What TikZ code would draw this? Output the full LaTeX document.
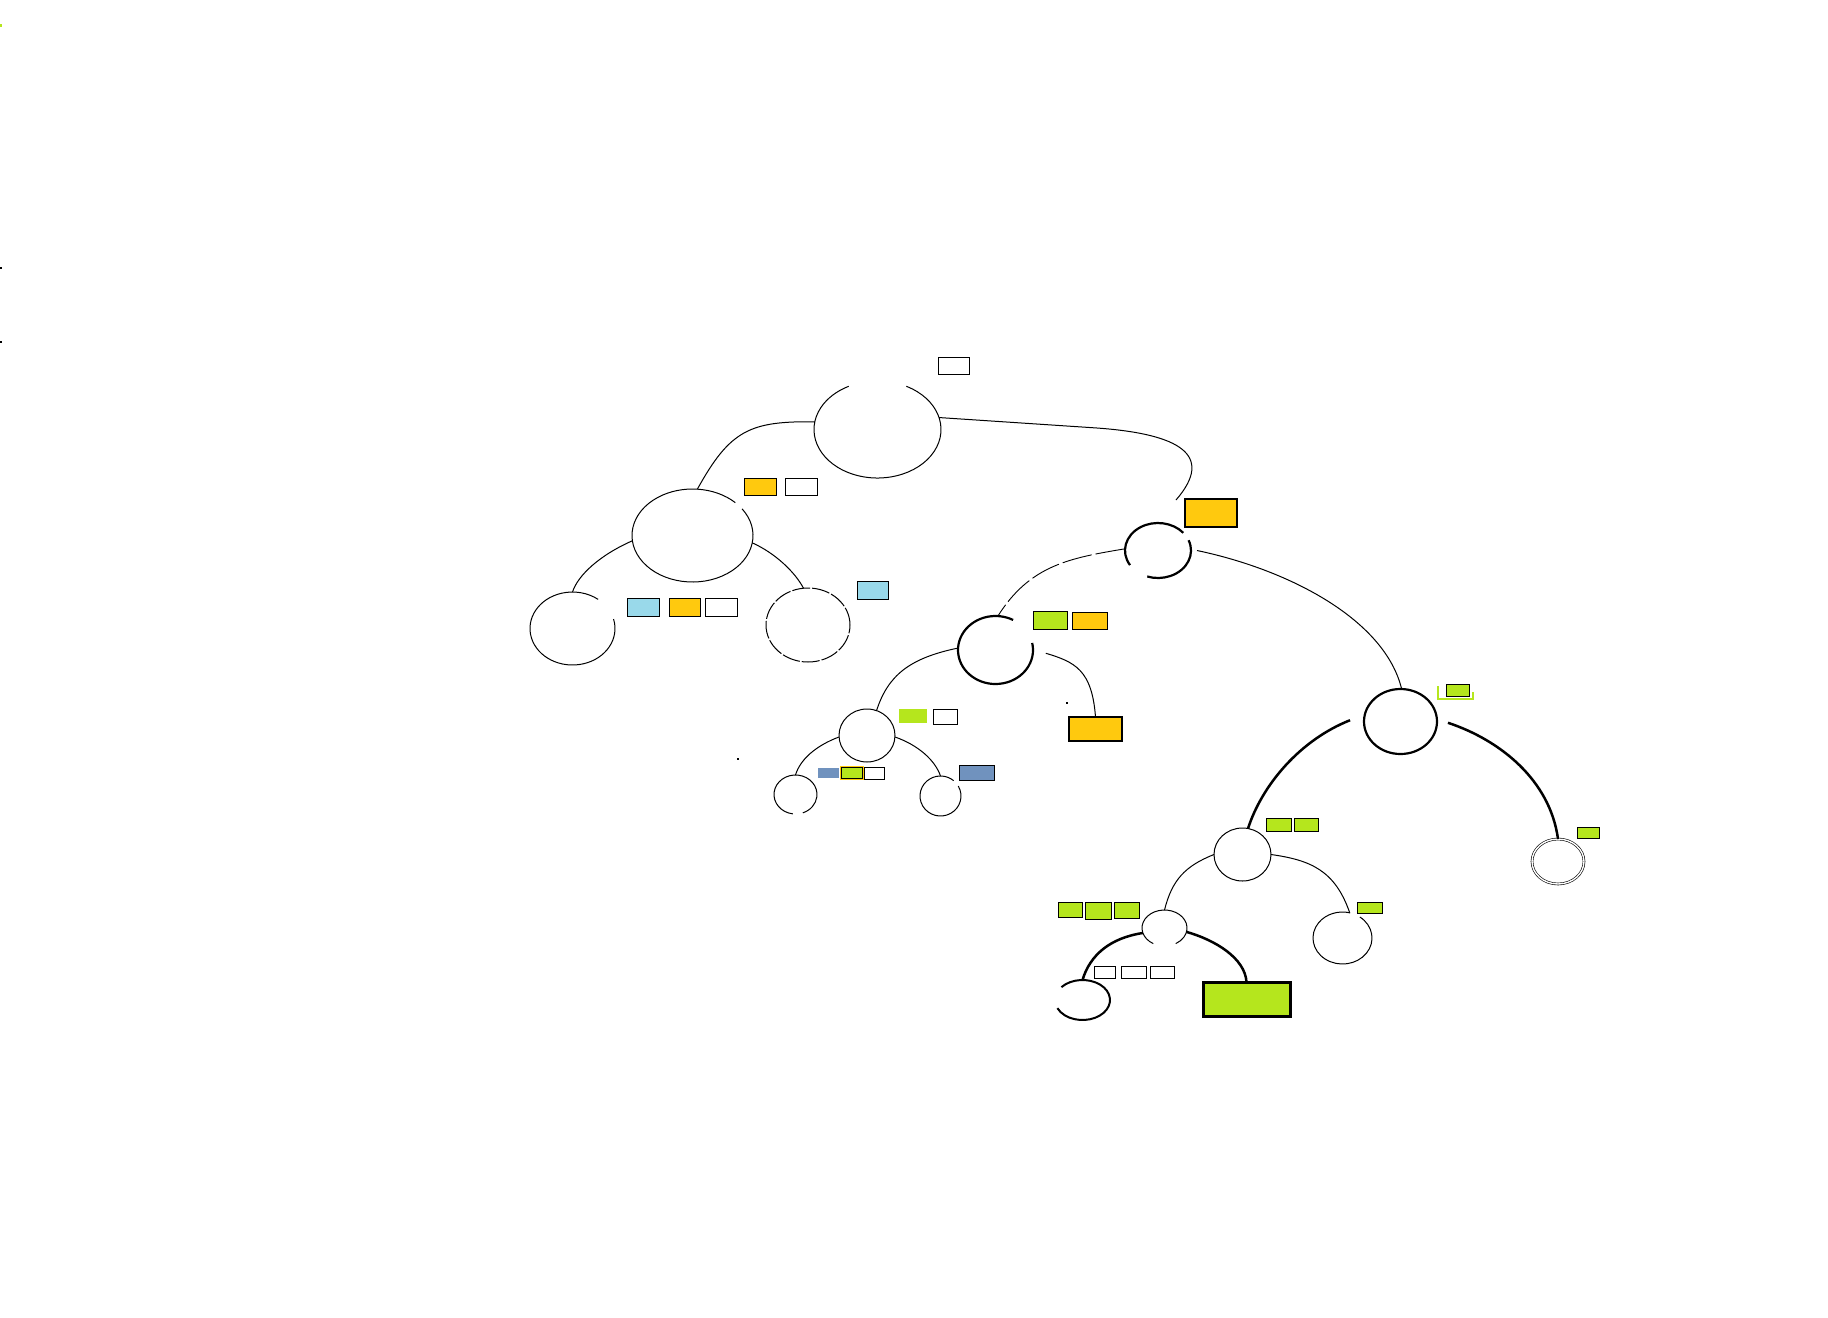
\documentclass[tikz,border=0pt]{standalone}
\usetikzlibrary{shapes.geometric,fit}
\definecolor{cOr}{RGB}{255,201,14}
\definecolor{cGr}{RGB}{181,230,29}
\definecolor{cLb}{RGB}{153,217,234}
\definecolor{cBg}{RGB}{112,146,190}
\tikzset{
  ell/.style={ellipse, inner sep=0pt, outer sep=0pt},
  ellline/.style={draw, line width=0.5pt},
  ellthick/.style={draw, line width=1.1pt},
  bx/.style={rectangle, draw, line width=0.5pt, inner sep=0pt, outer sep=0pt},
  thinedge/.style={draw, line width=0.5pt},
  thickedge/.style={draw, line width=1.25pt},
  dashedge/.style={draw, line width=0.45pt, dash pattern=on 15pt off 2pt},
}
% arc of an ellipse node with a gap: name, rx, ry, start, end, style
\newcommand\garc[6]{\draw[#6] ([shift={(#4:#2 and #3)}]#1.center) arc[start angle=#4, end angle=#5, x radius=#2, y radius=#3];}
\begin{document}
\begin{tikzpicture}[x=0.5pt,y=-0.5pt]
\useasboundingbox (0,0) rectangle (1828,1318);
\fill[white] (0,0) rectangle (1828,1318);

% ---------- tree nodes (ellipses) ----------
\node[ell, minimum width=63.5pt, minimum height=48.5pt] (root) at (877.5,429.5) {};
\node[ell, minimum width=60.5pt, minimum height=46.5pt] (L) at (692.5,535.5) {};
\node[ell, minimum width=42.5pt, minimum height=36.5pt] (LL) at (572.5,628.5) {};
\node[ell, minimum width=42pt, minimum height=37pt, draw, line width=0.5pt, dash pattern=on 9pt off 1pt] (LR) at (808,625) {};
\node[ell, minimum width=33pt, minimum height=27.5pt] (R) at (1158,550.5) {};
\node[ell, minimum width=37.5pt, minimum height=34pt] (RL) at (995.5,650) {};
\node[ell, ellline, minimum width=28pt, minimum height=26.5pt] (RLL) at (867,735.5) {};
\node[ell, minimum width=21.5pt, minimum height=19.5pt] (RLLL) at (795.5,794.5) {};
\node[ell, minimum width=20.5pt, minimum height=20pt] (RLLR) at (940.5,796) {};
\node[ell, ellthick, minimum width=36.5pt, minimum height=32.5pt] (RR) at (1400.5,721.5) {};
\node[ell, ellline, minimum width=28.5pt, minimum height=26.5pt] (RRL) at (1242.5,854.5) {};
\node[ell, minimum width=29.5pt, minimum height=26pt] (RRLR) at (1342.5,938) {};
\node[ell, draw, line width=0.3pt, double, double distance=0.7pt, minimum width=26pt, minimum height=22.5pt] (RRR) at (1558,861.5) {};
\node[ell, minimum width=22.5pt, minimum height=18pt] (RRLL) at (1164.5,928) {};
\node[ell, minimum width=27.5pt, minimum height=20pt] (RRLLL) at (1082.5,1000) {};

% outlines with gaps
\garc{root}{63.5}{48.5}{297}{603}{ellline}
\garc{L}{60.5}{46.5}{325}{675}{ellline}
\garc{LL}{42.5}{36.5}{345}{667}{ellline}
\garc{R}{33}{27.5}{148}{320}{ellthick}
\garc{R}{33}{27.5}{338}{469}{ellthick}
\garc{RL}{37.5}{34}{348}{658}{ellthick}
\garc{RLLL}{21.5}{19.5}{97}{430}{ellline}
\garc{RLLR}{20.5}{20}{330}{670}{ellline}
\garc{RRLR}{29.5}{26}{306}{645}{ellline}
\garc{RRLL}{22.5}{18}{120}{420}{ellline}
\garc{RRLLL}{27.5}{20}{220}{516}{draw, line width=1pt}

% ---------- tree nodes that are boxes ----------
\node[bx, fill=cOr, line width=0.9pt, fit={(1069,717) (1122,741)}] (RLR) {};
\node[bx, fill=cGr, line width=1.5pt, fit={(1203,982) (1290,1016)}] (RRLLR) {};

% ---------- connectors ----------
\coordinate (Rin) at (1176,500);
\draw[thinedge] (root.173) .. controls (750,421) and (730,430) .. (L.84);
\draw[thinedge] (root.11.5) -- (1097,428) .. controls (1180,434) and (1215,455) .. (Rin);
\draw[thinedge] (L.185) .. controls (600,555) and (578,575) .. (LL.north);
\draw[thinedge] (L.353) .. controls (775,553) and (795,572) .. (LR.97);
\draw[dashedge] (R.177) .. controls (1070,558) and (1030,565) .. (RL.86);
\draw[thinedge] ([xshift=3pt]R.0) .. controls (1290,570) and (1385,620) .. (RR.88);
\draw[thinedge] (RL.177) .. controls (910,658) and (888,675) .. (RLL.69);
\draw[thinedge] ([xshift=6.5pt]RL.355) .. controls (1075,662) and (1092,670) .. (RLR.north);
\draw[thinedge] (RLL.183) .. controls (815,746) and (800,760) .. (RLLL.north);
\draw[thinedge] (RLL.357) .. controls (918,745) and (935,760) .. (RLLR.north);
\draw[thickedge] ([xshift=-7pt]RR.178) .. controls (1300,740) and (1262,785) .. (RRL.78);
\draw[thickedge] ([xshift=5.5pt]RR.358) .. controls (1500,740) and (1550,780) .. (RRR.north);
\draw[thinedge] (RRL.west) .. controls (1185,866) and (1172,880) .. (RRLL.north);
\draw[thinedge] (RRL.east) .. controls (1310,860) and (1335,870) .. (RRLR.74);
\draw[thickedge] (RRLL.193) .. controls (1110,938) and (1090,955) .. (RRLLL.north);
\draw[thickedge] (RRLL.350) .. controls (1215,940) and (1245,958) .. (RRLLR.north);

% ---------- small label boxes ----------
\node[bx, fill=white, fit={(938,357) (969,374)}] (b0) {};
\node[bx, fill=cOr, fit={(744,478) (776,495)}] (b1) {};
\node[bx, fill=white, fit={(785,478) (817,495)}] (b2) {};
\node[bx, fill=cLb, fit={(627,598) (659,616)}] (b3) {};
\node[bx, fill=cOr, fit={(669,598) (700,616)}] (b4) {};
\node[bx, fill=white, fit={(705,598) (737,616)}] (b5) {};
\node[bx, fill=cLb, fit={(857,581) (888,599)}] (b6) {};
\node[bx, fill=cOr, line width=0.9pt, fit={(1185,499) (1237,527)}] (b7) {};
\node[bx, fill=cGr, fit={(1033,611) (1067,629)}] (b8) {};
\node[bx, fill=cOr, fit={(1072,612) (1107,629)}] (b9) {};
\node[bx, fill=cGr, draw=none, fit={(899,709) (927,723)}] (b10) {};
\node[bx, fill=white, fit={(933,709) (957,724)}] (b11) {};
\node[bx, fill=cBg, draw=none, fit={(818,768) (839,778)}] (b12) {};
\draw[cOr, line width=0.6pt] (841,766.5) rectangle (863.5,779);
\node[bx, fill=cGr, fit={(841,767) (862,778)}] (b13) {};
\node[bx, fill=white, fit={(864,767) (884,779)}] (b14) {};
\node[bx, fill=cBg, fit={(959,765) (994,780)}] (b15) {};
\draw[cGr, line width=1pt] (1437.5,686) -- (1437.5,698.5) -- (1472.5,698.5) -- (1472.5,692);
\node[bx, fill=cGr, fit={(1446,684) (1469,696)}] (b16) {};
\node[bx, fill=cGr, fit={(1266,818) (1291,831)}] (b17) {};
\node[bx, fill=cGr, fit={(1294,818) (1318,831)}] (b18) {};
\node[bx, fill=cGr, fit={(1577,827) (1599,838)}] (b19) {};
\node[bx, fill=cGr, fit={(1357,902) (1382,913)}] (b20) {};
\node[bx, fill=cGr, fit={(1058,902) (1082,917)}] (b21) {};
\node[bx, fill=cGr, fit={(1085,902) (1111,919)}] (b22) {};
\node[bx, fill=cGr, fit={(1114,902) (1139,918)}] (b23) {};
\node[bx, fill=white, fit={(1094,966) (1115,978)}] (b24) {};
\node[bx, fill=white, fit={(1121,966) (1146,978)}] (b25) {};
\node[bx, fill=white, fit={(1150,966) (1174,978)}] (b26) {};

% ---------- stray specks ----------
\fill[cGr] (0,24) rectangle (2,27);
\fill[black] (0,267) rectangle (2,269);
\fill[black] (0,341) rectangle (2,343);
\fill[black] (737,758) rectangle (739,760);
\fill[black] (1066,702) rectangle (1068,704);
\end{tikzpicture}
\end{document}
